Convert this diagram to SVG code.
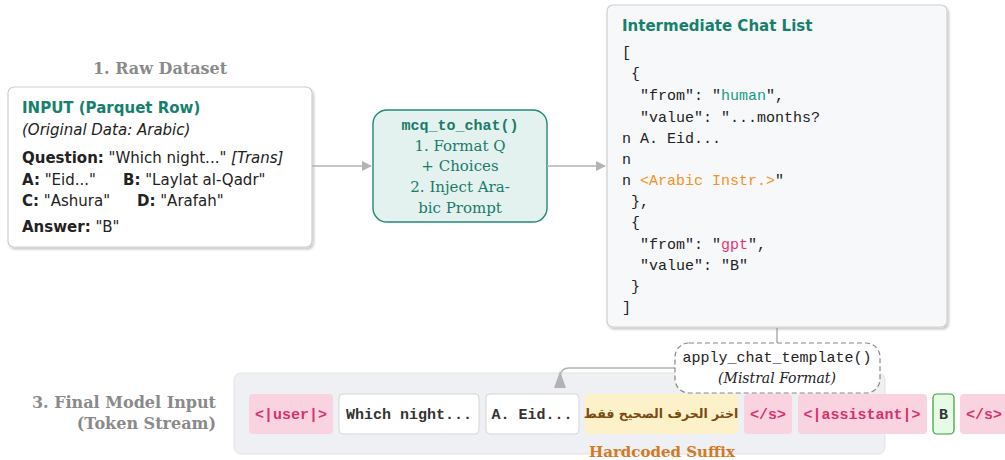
<svg xmlns="http://www.w3.org/2000/svg" width="1005" height="460" viewBox="0 0 1005 460">
<defs>
<filter id="sh" x="-5%" y="-5%" width="112%" height="115%">
<feDropShadow dx="1.5" dy="2" stdDeviation="1.2" flood-color="#000" flood-opacity="0.22"/>
</filter>
<marker id="ah" viewBox="0 0 10 10" refX="9" refY="5" markerWidth="10" markerHeight="10" markerUnits="userSpaceOnUse" orient="auto">
<path d="M0,0 L10,5 L0,10 z" fill="#b3b3b3"/>
</marker>
<style>
.sect{font-family:"DejaVu Serif",serif;font-weight:bold;font-size:16px;fill:#8a8a8a}
.sans{font-family:"DejaVu Sans",sans-serif;font-size:15px;fill:#222}
.b{font-weight:bold}
.it{font-style:italic}
.teal{fill:#17806d}
.mono{font-family:"Liberation Mono",monospace;font-size:15px;fill:#222}
.ser{font-family:"DejaVu Serif",serif;font-size:15px;fill:#1b7a69}
.tok{font-family:"Liberation Mono",monospace;font-size:15px;font-weight:bold}
.pink{fill:#f9d3df}
.pinkt{fill:#d6336c}
.conn{stroke:#b3b3b3;stroke-width:1.6;fill:none}
</style>
</defs>

<text class="sect" x="160" y="74" text-anchor="middle">1. Raw Dataset</text>
<g id="input">
<rect x="8" y="87" width="304" height="160" rx="6" fill="#fff" stroke="#cfcfcf" stroke-width="1.2" filter="url(#sh)"/>
<text class="sans b teal" x="22" y="113" font-size="16">INPUT (Parquet Row)</text>
<text class="sans it" x="22" y="135">(Original Data: Arabic)</text>
<text class="sans" x="22" y="163"><tspan class="b">Question:</tspan> "Which night..." <tspan class="it">[Trans]</tspan></text>
<text class="sans" x="22" y="185"><tspan class="b">A:</tspan> "Eid..."</text>
<text class="sans" x="123" y="185"><tspan class="b">B:</tspan> "Laylat al-Qadr"</text>
<text class="sans" x="22" y="206"><tspan class="b">C:</tspan> "Ashura"</text>
<text class="sans" x="137" y="206"><tspan class="b">D:</tspan> "Arafah"</text>
<text class="sans" x="22" y="232"><tspan class="b">Answer:</tspan> "B"</text>
</g>

<g id="mcq">
<rect x="373" y="110" width="174" height="112" rx="14" fill="#e4f2ef" stroke="#23897a" stroke-width="1.4"/>
<text class="mono b" x="460" y="130" text-anchor="middle" style="fill:#1b7a69">mcq_to_chat()</text>
<text class="ser" x="460" y="151" text-anchor="middle">1. Format Q</text>
<text class="ser" x="460" y="171" text-anchor="middle">+ Choices</text>
<text class="ser" x="460" y="192" text-anchor="middle">2. Inject Ara-</text>
<text class="ser" x="460" y="213" text-anchor="middle">bic Prompt</text>
</g>

<g id="chatlist">
<rect x="607" y="5" width="340" height="322" rx="6" fill="#f7f8fa" stroke="#cfcfcf" stroke-width="1.2" filter="url(#sh)"/>
<text class="sans b teal" x="622" y="31" font-size="15.5">Intermediate Chat List</text>
<text class="mono" x="622" y="57">[</text>
<text class="mono" x="622" y="78" xml:space="preserve"> {</text>
<text class="mono" x="622" y="100" xml:space="preserve">  "from": "<tspan style="fill:#1a9a86">human</tspan>",</text>
<text class="mono" x="622" y="122" xml:space="preserve">  "value": "...months?</text>
<text class="mono" x="622" y="143">n A. Eid...</text>
<text class="mono" x="622" y="164">n</text>
<text class="mono" x="622" y="185">n <tspan style="fill:#f39324">&lt;Arabic Instr.&gt;</tspan>"</text>
<text class="mono" x="622" y="206" xml:space="preserve"> },</text>
<text class="mono" x="622" y="227" xml:space="preserve"> {</text>
<text class="mono" x="622" y="249" xml:space="preserve">  "from": "<tspan style="fill:#e8336f">gpt</tspan>",</text>
<text class="mono" x="622" y="270" xml:space="preserve">  "value": "B"</text>
<text class="mono" x="622" y="291" xml:space="preserve"> }</text>
<text class="mono" x="622" y="312">]</text>
</g>

<text class="sect" x="216" y="408" text-anchor="end">3. Final Model Input</text>
<text class="sect" x="216" y="429" text-anchor="end">(Token Stream)</text>

<g id="stream">
<rect x="234" y="373" width="651" height="81" rx="7" fill="#eff0f3" stroke="#e2e3e7" stroke-width="1"/>
</g>

<g id="connectors">
<line class="conn" x1="312" y1="166" x2="371" y2="166" marker-end="url(#ah)"/>
<line class="conn" x1="547" y1="166" x2="605" y2="166" marker-end="url(#ah)"/>
<line class="conn" x1="777" y1="328" x2="777" y2="343" style="stroke:#999;stroke-width:1.2"/>
<path class="conn" d="M675,368 L569,368 Q561,368 560,376 L560,380"/>
<path d="M560,371 L566,388 L554,388 z" fill="#b3b3b3"/>
</g>

<g id="apply">
<rect x="675" y="343" width="205" height="50" rx="14" fill="#fff" stroke="#888" stroke-width="1.2" stroke-dasharray="5,3"/>
<text class="mono" x="777" y="362" text-anchor="middle">apply_chat_template()</text>
<text x="777" y="383" text-anchor="middle" font-family="DejaVu Serif, serif" font-style="italic" font-size="14" fill="#222">(Mistral Format)</text>
</g>

<g id="tok-user">
<rect x="249" y="394" width="84" height="40" rx="4" class="pink"/>
<text class="tok pinkt" x="291" y="419" text-anchor="middle">&lt;|user|&gt;</text>
</g>
<g id="tok-q">
<rect x="339" y="394" width="140" height="40" rx="4" fill="#fff" stroke="#d5d5d5"/>
<text class="tok" x="409" y="419" text-anchor="middle" fill="#333">Which night...</text>
</g>
<g id="tok-a">
<rect x="486" y="394" width="93" height="40" rx="4" fill="#fff" stroke="#d5d5d5"/>
<text class="tok" x="532" y="419" text-anchor="middle" fill="#333">A. Eid...</text>
</g>
<g id="tok-ar">
<rect x="585" y="394" width="153" height="40" rx="4" fill="#fdf1c9"/>
<text x="661" y="418" text-anchor="middle" font-family="DejaVu Sans, sans-serif" font-size="12.5" font-weight="bold" fill="#7b4a12">اختر الحرف الصحيح فقط</text>
</g>
<g id="tok-s1">
<rect x="744" y="394" width="48" height="40" rx="4" class="pink"/>
<text class="tok pinkt" x="768" y="419" text-anchor="middle">&lt;/s&gt;</text>
</g>
<g id="tok-asst">
<rect x="798" y="394" width="129" height="40" rx="4" class="pink"/>
<text class="tok pinkt" x="862" y="419" text-anchor="middle">&lt;|assistant|&gt;</text>
</g>
<g id="tok-b">
<rect x="933" y="394" width="21" height="40" rx="4" fill="#e6fbe6" stroke="#3a9a3a" stroke-width="1.2"/>
<text class="tok" x="943.5" y="419" text-anchor="middle" font-weight="normal" fill="#333">B</text>
</g>
<g id="tok-s2">
<rect x="960" y="394" width="60" height="40" rx="4" class="pink"/>
<text class="tok pinkt" x="984" y="419" text-anchor="middle">&lt;/s&gt;</text>
</g>

<text x="662" y="457" text-anchor="middle" font-family="DejaVu Serif, serif" font-weight="bold" font-size="15" fill="#d27a26">Hardcoded Suffix</text>
</svg>
